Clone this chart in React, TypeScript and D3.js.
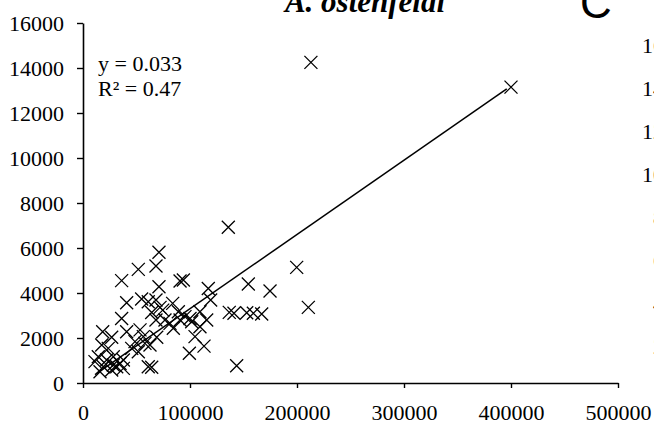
import React, { useRef, useEffect } from 'react';
import * as d3 from 'd3';

// cell counts (x) vs toxin (y)
const xValues = [
  135800, 71000, 68200, 51700, 36100, 71000, 90700, 93800, 117100, 154500,
  174800, 199700, 210600, 119300, 40800, 54800, 61000, 68200, 72000, 83800,
  74500, 36100, 64200, 89100, 95300, 100000, 109300, 115600, 136700, 141100,
  153000, 159200, 167000, 18400, 26800, 40800, 53300, 68200, 84400, 68900,
  56400, 104700, 113100, 99400, 143600, 61000, 64200, 14300, 17500, 19000,
  22100, 28300, 31500, 34600, 37700, 26800, 15900, 23600, 45500, 48600,
  57900, 51700, 62600, 76600, 81300, 101600, 109300, 90700, 37700, 11200,
  28300, 213000, 400000,
];
const yValues = [
  6920, 5810, 5200, 5050, 4550, 4280, 4530, 4580, 4200, 4400,
  4090, 5140, 3360, 3690, 3570, 3730, 3610, 3690, 3360, 3540,
  3240, 2870, 3130, 3170, 2950, 2870, 3170, 2800, 3140, 3100,
  3120, 3100, 3070, 2280, 2030, 2280, 2360, 2800, 2430, 2030,
  2060, 2060, 1640, 1320, 770, 720, 700, 1170, 1690, 720,
  1020, 1170, 720, 870, 650, 580, 500, 1540, 1540, 1840,
  1760, 1390, 1690, 2800, 2650, 2720, 2500, 2800, 1020, 950,
  800, 14250, 13150,
];

const xTicks = [0, 100000, 200000, 300000, 400000, 500000];
const yTicks = [0, 2000, 4000, 6000, 8000, 10000, 12000, 14000, 16000];
// labels of the next panel, cut off at the right edge
const sideLabels = ['16000', '14000', '12000', '10000', '8000', '6000', '4000', '2000'];

const slope = 0.033;
const equation = 'y = 0.033';
const rSquared = 'R² = 0.47';
const title = 'A. ostenfeldi';
const panelLetter = 'C';

const serif = '"Liberation Serif", "Times New Roman", serif';

export default function App() {
  const svgRef = useRef<SVGSVGElement>(null);
  const width = 654;
  const height = 426;

  useEffect(() => {
    const svg = d3.select(svgRef.current);
    svg.selectAll('*').remove();

    const x = d3.scaleLinear().domain([0, 500000]).range([83, 618]);
    const y = d3.scaleLinear().domain([0, 16000]).range([383, 23]);

    // axes
    const xAxis = svg.append('g')
      .attr('transform', `translate(0,${y(0)})`)
      .call(d3.axisBottom(x).tickValues(xTicks).tickSize(5).tickSizeOuter(0).tickFormat(d3.format('d')));
    const yAxis = svg.append('g')
      .attr('transform', `translate(${x(0)},0)`)
      .call(d3.axisLeft(y).tickValues(yTicks).tickSize(6).tickSizeOuter(0).tickFormat(d3.format('d')));

    [xAxis, yAxis].forEach(a => {
      a.select('.domain').attr('stroke', '#000').attr('stroke-width', 1.6);
      a.selectAll('.tick line').attr('stroke', '#000').attr('stroke-width', 1.4);
      a.selectAll('.tick text')
        .attr('fill', '#000')
        .style('font-family', serif)
        .style('font-size', '22px');
    });
    xAxis.selectAll('.tick text').attr('dy', null).attr('y', 37);
    yAxis.selectAll('.tick text').attr('x', -19).attr('dy', '0.35em');

    // trend line through origin
    const xExt = d3.extent(xValues) as [number, number];
    const line = d3.line<number>().x(d => x(d)).y(d => y(d * slope));
    svg.append('path')
      .datum([xExt[0], xExt[1] * 0.99])
      .attr('d', line)
      .attr('fill', 'none')
      .attr('stroke', '#000')
      .attr('stroke-width', 1.5);

    // cross markers
    const s = 6.5;
    const pts = xValues.map((v, i) => [v, yValues[i]]);
    svg.append('g')
      .selectAll('path')
      .data(pts)
      .join('path')
        .attr('d', d => {
          const cx = x(d[0]), cy = y(d[1]);
          return `M${cx - s},${cy - s}L${cx + s},${cy + s}M${cx - s},${cy + s}L${cx + s},${cy - s}`;
        })
        .attr('fill', 'none')
        .attr('stroke', '#000')
        .attr('stroke-width', 1.3);

    // equation
    svg.append('text')
      .attr('x', 98).attr('y', 71)
      .style('font-family', serif).style('font-size', '22px')
      .text(equation);
    svg.append('text')
      .attr('x', 98).attr('y', 96)
      .style('font-family', serif).style('font-size', '22px')
      .text(rSquared);

    // title (cut at the top, as in the source figure)
    svg.append('text')
      .attr('x', 365).attr('y', 12)
      .attr('text-anchor', 'middle')
      .style('font-family', serif).style('font-size', '31px')
      .style('font-weight', 'bold').style('font-style', 'italic')
      .text(title);

    svg.append('text')
      .attr('x', 580).attr('y', 18)
      .style('font-family', '"Liberation Sans", Arial, sans-serif').style('font-size', '44px')
      .text(panelLetter);

    svg.append('g')
      .selectAll('text')
      .data(sideLabels)
      .join('text')
        .attr('x', 697)
        .attr('y', (d, i) => 45 + i * 43)
        .attr('dy', '0.35em')
        .attr('text-anchor', 'end')
        .style('font-family', serif).style('font-size', '22px')
        .text(d => d);
  }, []);

  return (
    <div style={{ position: 'absolute', left: 0, top: 0 }}>
      <svg ref={svgRef} width={width} height={height} style={{ display: 'block', background: '#fff' }} />
    </div>
  );
}
